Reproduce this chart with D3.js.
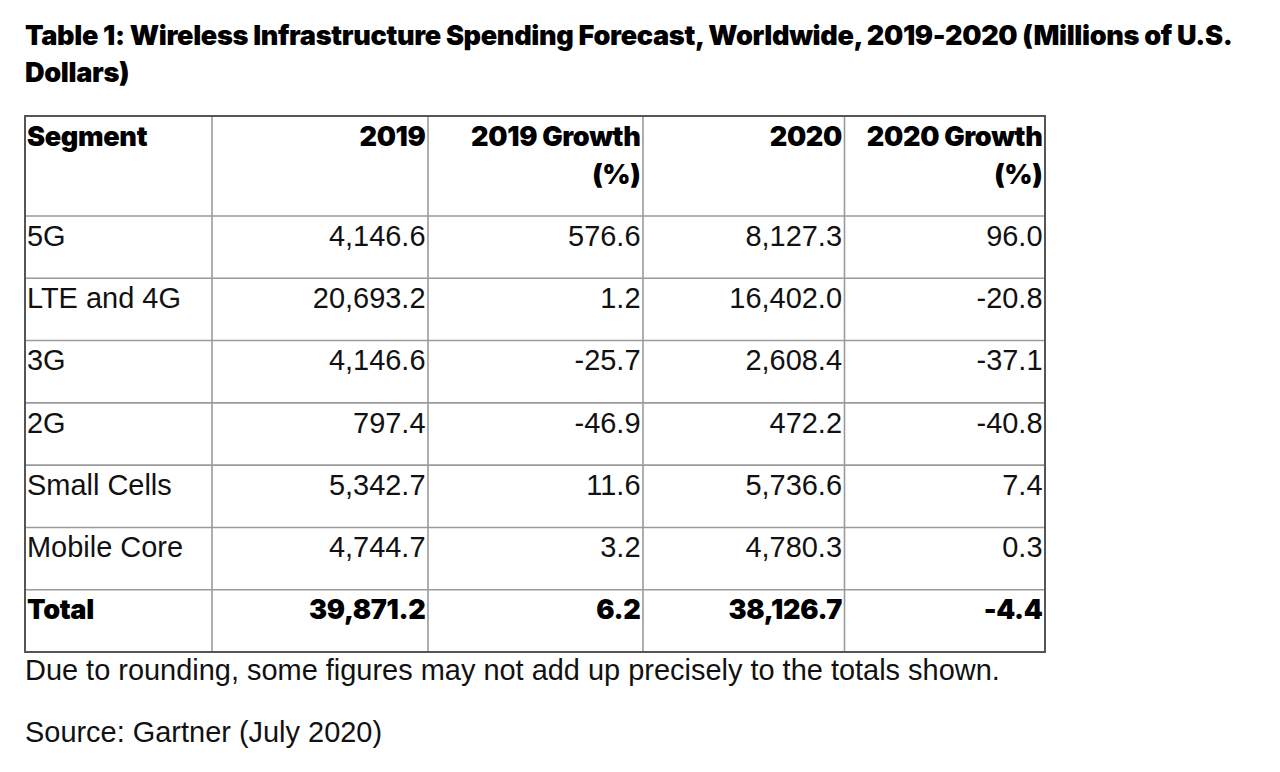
<!DOCTYPE html>
<html><head><meta charset="utf-8">
<script src="https://cdn.jsdelivr.net/npm/d3@7"></script>
<style>
html,body{margin:0;padding:0;background:#fff;}
svg{display:block;}
</style></head>
<body>
<svg id="chart" width="1280" height="772"></svg>
<script>
// ---- data ----
const titleLines = ["Table 1: Wireless Infrastructure Spending Forecast, Worldwide, 2019-2020 (Millions of U.S.", "Dollars)"];
const headers = [["Segment"], ["2019"], ["2019 Growth", "(%)"], ["2020"], ["2020 Growth", "(%)"]];
const segments = ["5G", "LTE and 4G", "3G", "2G", "Small Cells", "Mobile Core", "Total"];
const spend2019 = [4146.6, 20693.2, 4146.6, 797.4, 5342.7, 4744.7, 39871.2];
const growth2019 = [576.6, 1.2, -25.7, -46.9, 11.6, 3.2, 6.2];
const spend2020 = [8127.3, 16402.0, 2608.4, 472.2, 5736.6, 4780.3, 38126.7];
const growth2020 = [96.0, -20.8, -37.1, -40.8, 7.4, 0.3, -4.4];
const notes = ["Due to rounding, some figures may not add up precisely to the totals shown.", "Source: Gartner (July 2020)"];

// ---- layout ----
const svg = d3.select("#chart");
const loc = d3.formatLocale({decimal: ".", thousands: ",", grouping: [3], currency: ["$", ""], minus: "-"});
const fSpend = loc.format(",.1f"), fGrowth = loc.format(".1f");

const colEdges = [25, 212, 428, 643, 844.5, 1045];
const tableTop = 116, headBottom = 216, tableBottom = 652;
const nRows = segments.length;
const y = d3.scaleLinear().domain([0, nRows]).range([headBottom, tableBottom]);
const x = d3.scaleOrdinal().domain(d3.range(5)).range(colEdges.slice(0, 5));
const xr = d3.scaleOrdinal().domain(d3.range(5)).range(colEdges.slice(1));

const REG = "'Liberation Sans', Arial, sans-serif";
const BOLD = "Inter, 'Liberation Sans', sans-serif";
const BW = 900, BLS = -0.35;

function fit(family, weight, ls, str, target) {
  const t = svg.append("text").attr("font-family", family).attr("font-weight", weight)
    .attr("font-size", 24).text(str);
  const w = t.node().getComputedTextLength();
  t.remove();
  return 24 * (target - ls * str.length) / w;
}
const boldSize = fit(BOLD, BW, BLS, titleLines[0], 1207);
const regSize = fit(REG, 400, 0, notes[0], 975);

function boldText(sel) {
  return sel.attr("font-family", BOLD).attr("font-weight", BW)
    .attr("letter-spacing", BLS).attr("font-size", boldSize).attr("fill", "#000");
}

// title
boldText(svg.append("g").selectAll("text").data(titleLines).join("text")
  .attr("x", 25).attr("y", (d, i) => 45 + i * 37)).text(d => d);

// grid lines
const grid = svg.append("g");
const hLines = [headBottom].concat(d3.range(1, nRows).map(i => y(i)));
grid.selectAll("line.h").data(hLines).join("line").attr("class", "h")
  .attr("x1", colEdges[0]).attr("x2", colEdges[5]).attr("y1", d => d).attr("y2", d => d)
  .attr("stroke", "#9a9a9a").attr("stroke-width", 1.6);
grid.selectAll("line.v").data(colEdges.slice(1, 5)).join("line").attr("class", "v")
  .attr("x1", d => d).attr("x2", d => d).attr("y1", tableTop).attr("y2", tableBottom)
  .attr("stroke", "#9a9a9a").attr("stroke-width", 1.6);
grid.append("rect").attr("x", colEdges[0]).attr("y", tableTop)
  .attr("width", colEdges[5] - colEdges[0]).attr("height", tableBottom - tableTop)
  .attr("fill", "none").attr("stroke", "#555").attr("stroke-width", 2);

// header
const hg = svg.append("g");
headers.forEach((lines, c) => {
  boldText(hg.selectAll(null).data(lines).join("text")
    .attr("x", c === 0 ? x(c) + 2 : xr(c) - 2.5)
    .attr("y", (d, i) => tableTop + 29.7 + i * 38.3)
    .attr("text-anchor", c === 0 ? "start" : "end")).text(d => d);
});

// body
const cols = [segments, spend2019.map(fSpend), growth2019.map(fGrowth), spend2020.map(fSpend), growth2020.map(fGrowth)];
const body = svg.append("g");
cols.forEach((vals, c) => {
  const t = body.selectAll(null).data(vals).join("text")
    .attr("x", c === 0 ? x(c) + 2 : xr(c) - 2.5)
    .attr("y", (d, i) => y(i) + 29.7)
    .attr("text-anchor", c === 0 ? "start" : "end")
    .text(d => d);
  t.filter((d, i) => i < nRows - 1)
    .attr("font-family", REG).attr("font-weight", 400).attr("font-size", regSize).attr("fill", "#111");
  boldText(t.filter((d, i) => i === nRows - 1));
});

// notes
svg.append("g").selectAll("text").data(notes).join("text")
  .attr("x", 25).attr("y", (d, i) => 680 + i * 62)
  .attr("font-family", REG).attr("font-size", regSize).attr("fill", "#111")
  .text(d => d);
</script>
</body></html>
